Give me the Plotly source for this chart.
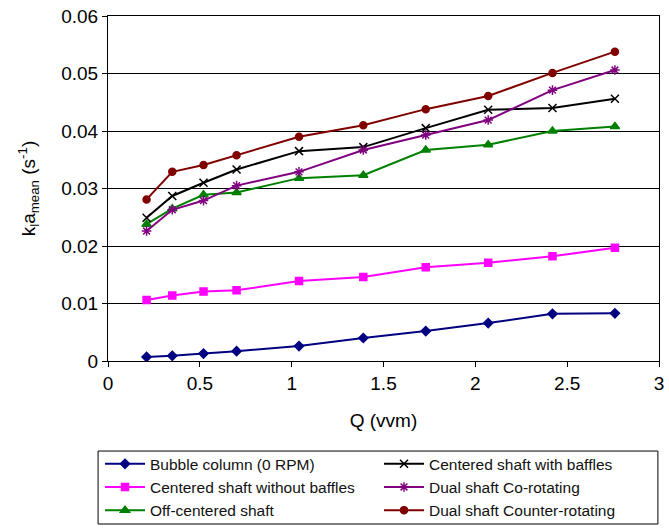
import plotly.graph_objects as go

q = [0.21, 0.35, 0.52, 0.70, 1.04, 1.39, 1.73, 2.07, 2.42, 2.76]

bubble = [0.0007, 0.0009, 0.0013, 0.0017, 0.0026, 0.0040, 0.0052, 0.0066, 0.0082, 0.0083]
centered_without = [0.0106, 0.0114, 0.0121, 0.0123, 0.0139, 0.0146, 0.0163, 0.0171, 0.0182, 0.0197]
off_centered = [0.0238, 0.0265, 0.0289, 0.0293, 0.0318, 0.0323, 0.0367, 0.0376, 0.0400, 0.0408]
centered_with = [0.0249, 0.0287, 0.0310, 0.0333, 0.0365, 0.0372, 0.0405, 0.0437, 0.0440, 0.0456]
dual_co = [0.0226, 0.0263, 0.0279, 0.0305, 0.0329, 0.0367, 0.0393, 0.0419, 0.0471, 0.0506]
dual_counter = [0.0281, 0.0329, 0.0341, 0.0358, 0.0390, 0.0410, 0.0438, 0.0461, 0.0501, 0.0538]

series = [
    ("Bubble column (0 RPM)", bubble, "#000080", "diamond", 7, 1),
    ("Centered shaft without baffles", centered_without, "#FF00FF", "square", 7, 3),
    ("Off-centered shaft", off_centered, "#008000", "triangle-up", 8, 5),
    ("Centered shaft with baffles", centered_with, "#000000", "x-thin-open", 8, 2),
    ("Dual shaft Co-rotating", dual_co, "#800080", "asterisk-open", 8, 4),
    ("Dual shaft Counter-rotating", dual_counter, "#800000", "circle", 7, 6),
]

fig = go.Figure()
for name, vals, color, sym, size, rank in series:
    fig.add_trace(go.Scatter(
        x=q, y=vals, name=name, mode="lines+markers",
        line=dict(color=color, width=2),
        marker=dict(symbol=sym, size=size, color=color,
                    line=dict(color=color, width=1.5)),
        legendrank=rank,
    ))

fig.update_layout(
    width=669, height=529,
    margin=dict(l=108, r=10, t=16, b=168, autoexpand=False),
    paper_bgcolor="white", plot_bgcolor="white",
    font=dict(family="Liberation Sans, Arial, sans-serif", color="#000000", size=19),
    showlegend=True,
    legend=dict(
        orientation="h", x=-0.0145, y=-0.25, xanchor="left", yanchor="top",
        entrywidth=224, entrywidthmode="pixels",
        bgcolor="rgba(0,0,0,0)", borderwidth=0,
        font=dict(size=15.5, color="#111111"),
        itemwidth=40, tracegroupgap=0,
    ),
    shapes=[dict(
        type="rect", xref="paper", yref="paper",
        x0=-0.018, x1=0.998, y0=-0.4725, y1=-0.261,
        line=dict(color="#000000", width=1), fillcolor="rgba(0,0,0,0)",
        layer="below",
    )],
    xaxis=dict(
        range=[0, 3], tickvals=[0, 0.5, 1, 1.5, 2, 2.5, 3],
        ticktext=["0", "0.5", "1", "1.5", "2", "2.5", "3"],
        showline=True, linecolor="#000000", linewidth=1, mirror=True,
        ticks="outside", ticklen=5, tickcolor="#000000",
        showgrid=False, zeroline=False, automargin=False,
        tickfont=dict(size=19),
        title=dict(text="Q (vvm)", font=dict(size=19), standoff=20),
    ),
    yaxis=dict(
        range=[0, 0.06], tickvals=[0, 0.01, 0.02, 0.03, 0.04, 0.05, 0.06],
        ticktext=["0", "0.01", "0.02", "0.03", "0.04", "0.05", "0.06"],
        showline=True, linecolor="#000000", linewidth=1, mirror=True,
        ticks="outside", ticklen=5, tickcolor="#000000",
        showgrid=True, gridcolor="#000000", gridwidth=1, zeroline=False,
        automargin=False, tickfont=dict(size=19),
        title=dict(text="k<sub>l</sub>a<sub>mean</sub> (s<sup>-1</sup>)",
                   font=dict(size=19), standoff=20),
    ),
)

fig.write_html("out.html")
